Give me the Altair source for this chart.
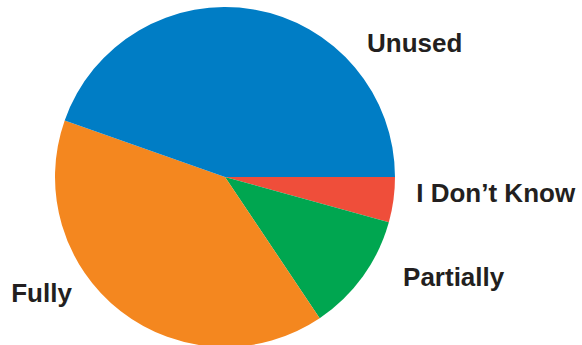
import altair as alt
import pandas as pd

categories = ["I Don\u2019t Know", "Partially", "Fully", "Unused"]
values = [4.3, 11.3, 39.8, 44.6]
colors = ["#EF4E3A", "#00A650", "#F4871F", "#007DC5"]
order = [0, 1, 2, 3]

df = pd.DataFrame({"category": categories, "value": values, "order": order})

PI = 3.141592653589793
theta = alt.Theta("value:Q", stack=True,
                  scale=alt.Scale(range=[PI / 2, PI / 2 + 2 * PI]))
cx, cy = 225, 177

base = alt.Chart(df).encode(
    theta=theta,
    order=alt.Order("order:Q"),
    x=alt.value(cx),
    y=alt.value(cy),
)

pie = base.mark_arc(radius=170, stroke=None).encode(
    color=alt.Color("category:N",
                    scale=alt.Scale(domain=categories, range=colors),
                    legend=None)
)

offsets = {
    "I Don\u2019t Know": (3, -1, "left"),
    "Partially": (24, -2, "left"),
    "Fully": (-67, -25, "center"),
    "Unused": (110, 62, "left"),
}

layers = [pie]
for cat, (dx, dy, al) in offsets.items():
    layers.append(
        base.mark_text(radius=190, dx=dx, dy=dy, align=al, baseline="alphabetic",
                       font="Liberation Sans", fontWeight="bold", fontSize=26,
                       color="#231F20")
        .encode(text=alt.condition(alt.datum.category == cat,
                                   "category:N", alt.value("")))
    )

chart = alt.layer(*layers).properties(
    width=582, height=345, padding=0,
    autosize=alt.AutoSizeParams(type="none"),
).configure_view(stroke=None)

chart.save("out.html", embed_options={"renderer": "svg", "actions": False})
